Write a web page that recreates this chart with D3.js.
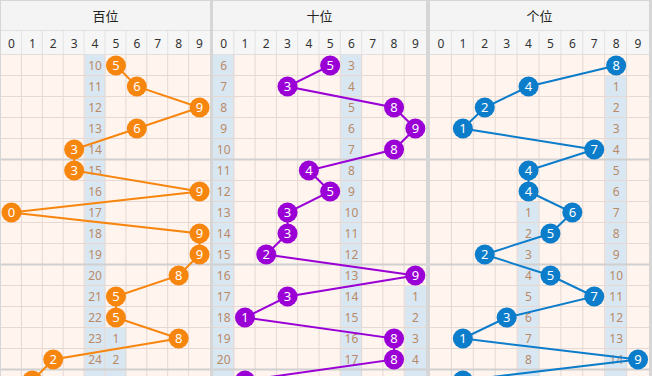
<!DOCTYPE html>
<html>
<head>
<meta charset="utf-8">
<script src="https://cdn.jsdelivr.net/npm/d3@7"></script>
<style>
  body { margin: 0; background: #fff; }
  svg { display: block; font-family: "Noto Sans", "Noto Sans CJK SC", sans-serif; }
</style>
</head>
<body>
<svg id="chart" width="652" height="376"></svg>
<script>
// winning digit per draw, one array per position
var hundreds = [5, 6, 9, 6, 3, 3, 9, 0, 9, 9, 8, 5, 5, 8, 2, 1];
var tens     = [5, 3, 8, 9, 8, 4, 5, 3, 3, 2, 9, 3, 1, 8, 8, 1];
var units    = [8, 4, 2, 1, 7, 4, 4, 6, 5, 2, 5, 7, 3, 1, 9, 1];

// omission counts shown in the highlighted columns: [column, first row, values]
var hundredsMiss = [
  [4, 0, [10, 11, 12, 13, 14, 15, 16, 17, 18, 19, 20, 21, 22, 23, 24, 25]],
  [5, 13, [1, 2, 3]]
];
var tensMiss = [
  [0, 0, [6, 7, 8, 9, 10, 11, 12, 13, 14, 15, 16, 17, 18, 19, 20, 21]],
  [6, 0, [3, 4, 5, 6, 7, 8, 9, 10, 11, 12, 13, 14, 15, 16, 17, 18]],
  [9, 11, [1, 2, 3, 4, 5]]
];
var unitsMiss = [
  [8, 1, [1, 2, 3, 4, 5, 6, 7, 8, 9, 10, 11, 12, 13, 14, 15]],
  [4, 7, [1, 2, 3, 4, 5, 6, 7, 8, 9]]
];

var digits = d3.range(10);
var rowCount = hundreds.length;
var top0 = 55, rowH = 21, H = 376;

var panels = [
  { title: "百位", x0: 1,   x1: 210, color: "#f7860f", values: hundreds, miss: hundredsMiss },
  { title: "十位", x0: 213, x1: 426, color: "#9a00d6", values: tens,     miss: tensMiss },
  { title: "个位", x0: 430, x1: 649, color: "#0b7dca", values: units,    miss: unitsMiss }
];

var svg = d3.select("#chart");

// frame / separators
svg.append("rect").attr("x", 0).attr("y", 0).attr("width", 652).attr("height", H).attr("fill", "#d6d6d6");

var yScale = d3.scaleBand().domain(d3.range(rowCount)).range([top0, top0 + rowCount * rowH]);

// the last row is only partly on screen, its labels fall below the edge
function visible(row) { return yScale(row) + rowH / 2 + 5 < H; }

panels.forEach(function(p) {
  var g = svg.append("g");
  var xScale = d3.scaleBand().domain(digits).range([p.x0, p.x1]);
  var bw = xScale.bandwidth();

  // header backgrounds
  g.append("rect").attr("x", p.x0).attr("y", 1).attr("width", p.x1 - p.x0).attr("height", 29).attr("fill", "#f4f4f4");
  g.append("rect").attr("x", p.x0).attr("y", 31).attr("width", p.x1 - p.x0).attr("height", 24).attr("fill", "#f6f6f6");
  g.append("text").attr("x", (p.x0 + p.x1) / 2).attr("y", 21)
    .attr("text-anchor", "middle").attr("font-size", 13).attr("fill", "#222")
    .attr("font-family", "'Noto Sans CJK SC', sans-serif")
    .text(p.title);

  // column number row
  g.selectAll(".colnum").data(digits).enter().append("text")
    .attr("x", function(d) { return xScale(d) + bw / 2; })
    .attr("y", 48).attr("text-anchor", "middle").attr("font-size", 12).attr("fill", "#333")
    .text(function(d) { return d; });
  g.selectAll(".hv").data(digits.slice(1)).enter().append("line")
    .attr("x1", function(d) { return xScale(d) - 0.5; }).attr("x2", function(d) { return xScale(d) - 0.5; })
    .attr("y1", 31).attr("y2", 55).attr("stroke", "#e2e2e2");

  // data area
  g.append("rect").attr("x", p.x0).attr("y", top0).attr("width", p.x1 - p.x0).attr("height", rowCount * rowH).attr("fill", "#fff4ee");

  // highlighted omission cells
  var missCells = [];
  p.miss.forEach(function(m) {
    m[2].forEach(function(v, i) { missCells.push({ col: m[0], row: m[1] + i, val: v }); });
  });
  missCells = missCells.filter(function(c) { return c.row < rowCount; });
  g.selectAll(".mc").data(missCells).enter().append("rect")
    .attr("x", function(d) { return xScale(d.col); }).attr("y", function(d) { return yScale(d.row); })
    .attr("width", bw).attr("height", rowH).attr("fill", "#d9e7f3");

  // grid
  g.selectAll(".vl").data(digits.slice(1)).enter().append("line")
    .attr("x1", function(d) { return xScale(d) - 0.5; }).attr("x2", function(d) { return xScale(d) - 0.5; })
    .attr("y1", top0).attr("y2", H).attr("stroke", "#e6d8d2");
  g.selectAll(".hl").data(d3.range(1, rowCount)).enter().append("line")
    .attr("x1", p.x0).attr("x2", p.x1)
    .attr("y1", function(d) { return yScale(d) - 0.5; }).attr("y2", function(d) { return yScale(d) - 0.5; })
    .attr("stroke", function(d) { return d % 5 == 0 ? "#d0d0d0" : "#e6d8d2"; })
    .attr("stroke-width", function(d) { return d % 5 == 0 ? 2 : 1; });
  g.append("line").attr("x1", p.x0).attr("x2", p.x1).attr("y1", 30.5).attr("y2", 30.5).attr("stroke", "#e0e0e0");
  g.append("line").attr("x1", p.x0).attr("x2", p.x1).attr("y1", top0 - 0.5).attr("y2", top0 - 0.5).attr("stroke", "#e0e0e0");

  // omission numbers
  g.selectAll(".mt").data(missCells.filter(function(c) { return visible(c.row); })).enter().append("text")
    .attr("x", function(d) { return xScale(d.col) + bw / 2; })
    .attr("y", function(d) { return yScale(d.row) + rowH / 2 + 4.5; })
    .attr("text-anchor", "middle").attr("font-size", 12).attr("fill", "#b98a66")
    .text(function(d) { return d.val; });

  // trend line
  var pts = p.values.map(function(v, i) { return [xScale(v) + bw / 2, yScale(i) + rowH / 2]; });
  g.append("path").attr("d", d3.line()(pts))
    .attr("fill", "none").attr("stroke", p.color).attr("stroke-width", 2);

  // balls
  var balls = g.selectAll(".ball").data(p.values).enter().append("g")
    .attr("transform", function(d, i) { return "translate(" + (xScale(d) + bw / 2) + "," + (yScale(i) + rowH / 2) + ")"; });
  balls.append("circle").attr("r", 10).attr("fill", p.color);
  balls.filter(function(d, i) { return visible(i); })
    .append("text").attr("y", 4.5).attr("text-anchor", "middle")
    .attr("font-size", 13).attr("fill", "#fff")
    .text(function(d) { return d; });
});
</script>
</body>
</html>
